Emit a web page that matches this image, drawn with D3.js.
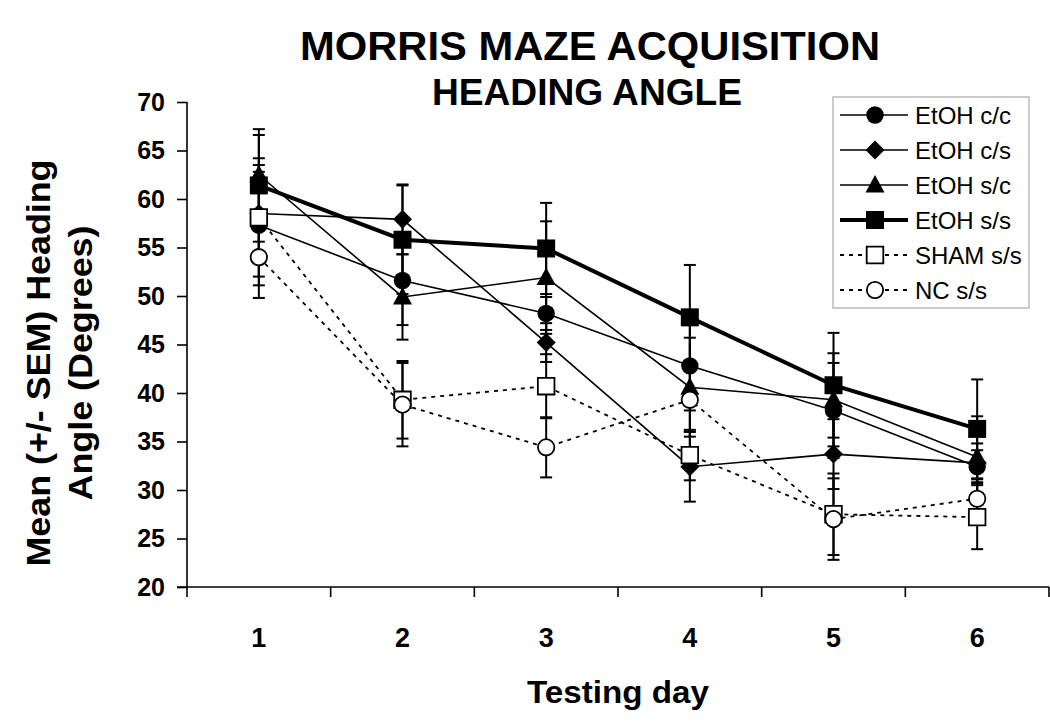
<!DOCTYPE html>
<html>
<head>
<meta charset="utf-8">
<script src="https://cdn.jsdelivr.net/npm/d3@7"></script>
<style>
  html, body { margin: 0; padding: 0; background: #fff; }
  svg { display: block; }
  text { font-family: "Liberation Sans", Arial, sans-serif; fill: #000; }
</style>
</head>
<body>
<svg id="chart" width="1050" height="721"></svg>
<script>
// ---- data ----
const days = ["1", "2", "3", "4", "5", "6"];
const yTicks = [20, 25, 30, 35, 40, 45, 50, 55, 60, 65, 70];
const seriesNames = ["EtOH c/c", "EtOH c/s", "EtOH s/c", "EtOH s/s", "SHAM s/s", "NC s/s"];

const etohCC  = [57.3, 51.6, 48.2, 42.8, 38.2, 32.4];
const semCC   = [6.2, 4.6, 1.7, 4.6, 4.9, 1.7];
const etohCS  = [58.5, 57.9, 45.2, 32.4, 33.7, 32.8];
const semCS   = [4.3, 3.6, 2.0, 3.6, 3.6, 2.0];
const etohSC  = [62.5, 49.9, 51.9, 40.6, 39.3, 33.4];
const semSC   = [4.1, 4.4, 5.8, 5.1, 4.8, 4.2];
const etohSS  = [61.4, 55.8, 54.9, 47.8, 40.8, 36.3];
const semSS   = [5.8, 5.6, 4.7, 5.4, 5.4, 5.1];
const shamSS  = [58.1, 39.3, 40.7, 33.6, 27.5, 27.2];
const semSHAM = [6.1, 4.0, 3.3, 2.6, 4.2, 3.3];
const ncSS    = [54.0, 38.8, 34.4, 39.3, 27.0, 29.1];
const semNC   = [4.2, 4.3, 3.1, 3.3, 4.2, 2.0];

const seriesValues = [etohCC, etohCS, etohSC, etohSS, shamSS, ncSS];
const seriesSems = [semCC, semCS, semSC, semSS, semSHAM, semNC];

// ---- styles (per series) ----
const styles = [
  { marker: "circle",   fill: "#000", width: 1.6, dash: null },
  { marker: "diamond",  fill: "#000", width: 1.6, dash: null },
  { marker: "triangle", fill: "#000", width: 1.6, dash: null },
  { marker: "square",   fill: "#000", width: 4,   dash: null },
  { marker: "square",   fill: "#fff", width: 1.8, dash: "4,5" },
  { marker: "circle",   fill: "#fff", width: 1.8, dash: "4,5" }
];

function markerPath(type, filled) {
  const p = d3.path();
  if (type === "circle") {
    const r = filled ? 8.7 : 8.2;
    p.arc(0, 0, r, 0, 2 * Math.PI);
  } else if (type === "square") {
    const h = filled ? 9 : 8.3;
    p.rect(-h, -h, 2 * h, 2 * h);
  } else if (type === "diamond") {
    const h = 9.5;
    p.moveTo(0, -h); p.lineTo(h, 0); p.lineTo(0, h); p.lineTo(-h, 0); p.closePath();
  } else if (type === "triangle") {
    p.moveTo(0, -10); p.lineTo(9.5, 7.5); p.lineTo(-9.5, 7.5); p.closePath();
  }
  return p.toString();
}

const svg = d3.select("#chart");
const plotL = 187, plotR = 1049, plotT = 102, plotB = 587;

const x = d3.scaleBand().domain(days).range([plotL, plotR]);
const y = d3.scaleLinear().domain([20, 70]).range([plotB, plotT]);
const cx = d => x(d) + x.bandwidth() / 2;

// ---- titles ----
svg.append("text").attr("x", 590).attr("y", 60).attr("text-anchor", "middle")
  .attr("font-size", 41).attr("font-weight", "bold")
  .attr("textLength", 580).attr("lengthAdjust", "spacingAndGlyphs")
  .text("MORRIS MAZE ACQUISITION");
svg.append("text").attr("x", 587).attr("y", 105).attr("text-anchor", "middle")
  .attr("font-size", 36).attr("font-weight", "bold")
  .attr("textLength", 310).attr("lengthAdjust", "spacingAndGlyphs")
  .text("HEADING ANGLE");

// ---- axes ----
const yAxis = d3.axisLeft(y).tickValues(yTicks).tickSize(10).tickPadding(12);
const gy = svg.append("g").attr("transform", `translate(${plotL},0)`).call(yAxis);
gy.select(".domain").attr("stroke-width", 1.6).attr("d", `M0,${plotT}V${plotB}`);
gy.selectAll(".tick line").attr("stroke-width", 1.6);
gy.selectAll(".tick text").attr("font-size", 25).attr("font-weight", "bold")
  .attr("font-family", "Liberation Sans, Arial, sans-serif");

// x axis: boundary ticks + centered labels
const gx = svg.append("g").attr("transform", `translate(0,${plotB})`);
gx.append("line").attr("x1", plotL - 10).attr("x2", plotR).attr("y1", 0).attr("y2", 0)
  .attr("stroke", "#000").attr("stroke-width", 1.6);
const boundaries = days.map(d => x(d)).concat([plotR]);
gx.selectAll("line.bt").data(boundaries).enter().append("line").attr("class", "bt")
  .attr("x1", d => d).attr("x2", d => d).attr("y1", 0).attr("y2", 10)
  .attr("stroke", "#000").attr("stroke-width", 1.6);
gx.selectAll("text.lbl").data(days).enter().append("text").attr("class", "lbl")
  .attr("x", d => cx(d)).attr("y", 60).attr("text-anchor", "middle")
  .attr("font-size", 27).attr("font-weight", "bold").text(d => d);

svg.append("text").attr("x", (plotL + plotR) / 2).attr("y", 703).attr("text-anchor", "middle")
  .attr("font-size", 31).attr("font-weight", "bold")
  .attr("textLength", 182).attr("lengthAdjust", "spacingAndGlyphs")
  .text("Testing day");

const ylab = svg.append("g").attr("transform", "translate(0,363) rotate(-90)");
ylab.append("text").attr("x", 0).attr("y", 50).attr("text-anchor", "middle")
  .attr("font-size", 33).attr("font-weight", "bold")
  .attr("textLength", 407).attr("lengthAdjust", "spacingAndGlyphs")
  .text("Mean (+/- SEM) Heading");
ylab.append("text").attr("x", 0).attr("y", 92).attr("text-anchor", "middle")
  .attr("font-size", 33).attr("font-weight", "bold")
  .attr("textLength", 275).attr("lengthAdjust", "spacingAndGlyphs")
  .text("Angle (Degrees)");

// ---- error bars ----
const capW = 6;
seriesValues.forEach((vals, si) => {
  const sems = seriesSems[si];
  const g = svg.append("g").attr("stroke", "#000").attr("stroke-width", 2);
  vals.forEach((v, i) => {
    const xc = cx(days[i]);
    const y1 = y(v + sems[i]), y2 = y(v - sems[i]);
    g.append("line").attr("x1", xc).attr("x2", xc).attr("y1", y1).attr("y2", y2);
    g.append("line").attr("x1", xc - capW).attr("x2", xc + capW).attr("y1", y1).attr("y2", y1);
    g.append("line").attr("x1", xc - capW).attr("x2", xc + capW).attr("y1", y2).attr("y2", y2);
  });
});

// ---- lines ----
const line = d3.line().x((d, i) => cx(days[i])).y(d => y(d));
seriesValues.forEach((vals, si) => {
  const st = styles[si];
  svg.append("path").datum(vals).attr("d", line)
    .attr("fill", "none").attr("stroke", "#000").attr("stroke-width", st.width)
    .attr("stroke-dasharray", st.dash);
});

// ---- markers ----
seriesValues.forEach((vals, si) => {
  const st = styles[si];
  const filled = st.fill === "#000";
  svg.append("g").selectAll("path").data(vals).enter().append("path")
    .attr("transform", (d, i) => `translate(${cx(days[i])},${y(d)})`)
    .attr("d", markerPath(st.marker, filled))
    .attr("fill", st.fill).attr("stroke", "#000").attr("stroke-width", filled ? 0 : 1.8);
});

// ---- legend ----
const lg = svg.append("g");
lg.append("rect").attr("x", 833).attr("y", 97).attr("width", 196).attr("height", 211)
  .attr("fill", "#fff").attr("stroke", "#aaa").attr("stroke-width", 1.2);
seriesNames.forEach((name, si) => {
  const st = styles[si];
  const filled = st.fill === "#000";
  const yy = 115 + si * 35;
  lg.append("line").attr("x1", 840).attr("x2", 908).attr("y1", yy).attr("y2", yy)
    .attr("stroke", "#000").attr("stroke-width", st.width).attr("stroke-dasharray", st.dash);
  lg.append("path").attr("transform", `translate(875,${yy})`)
    .attr("d", markerPath(st.marker, filled))
    .attr("fill", st.fill).attr("stroke", "#000").attr("stroke-width", filled ? 0 : 1.8);
  lg.append("text").attr("x", 915).attr("y", yy + 8.5).attr("font-size", 24).text(name);
});
</script>
</body>
</html>
